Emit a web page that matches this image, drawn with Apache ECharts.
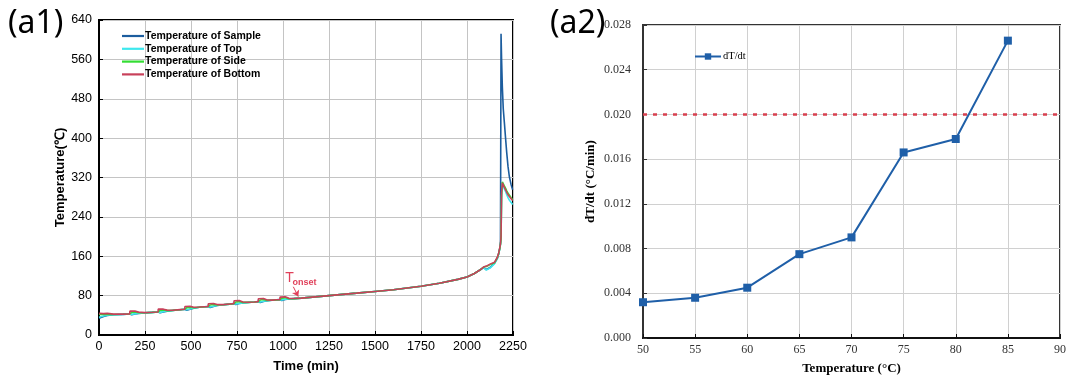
<!DOCTYPE html>
<html>
<head>
<meta charset="utf-8">
<script src="https://cdn.jsdelivr.net/npm/echarts@6/dist/echarts.min.js"></script>
<style>
html,body{margin:0;padding:0;background:#fff;}
#c{width:1077px;height:382px;}
</style>
</head>
<body>
<div id="c"></div>
<script>
// ---------- (a1) data ----------
const time = [
  0,10,25,45,80,130,167,
  168,178,195,215,250,290,321,
  322,332,350,370,400,440,466,
  467,477,495,515,545,575,593,
  594,604,622,642,675,710,733,
  734,744,762,782,810,845,865,
  866,876,894,914,940,965,983,
  984,994,1012,1032,1060,1100,
  1250,1400,1500,1600,1750,1850,1950,2000,2040,2070,2090,
  2095,2105,2115,2125,2135,2150,2165,2172,2178,
  2182,2185,2188,2192,2197,2203,2210,2216,2223,2230,2240,2248
];
const tempSample = [
  34,35.5,37.5,39.5,41,42,42.8,
  39.5,41,42.5,44,45,46,46.8,
  43.5,45,47,48.5,49.8,51.3,52.2,
  49,50.5,52.5,54.5,56.3,57.3,57.8,
  54.5,56,58,59.8,61.3,62.8,63.7,
  60.5,62,64,65.2,66,67,67.8,
  64.5,66,68,69.5,70.5,71.3,71.8,
  68.5,70,72,73.2,74,75,
  80,85,88.5,92,99,105,113,118,125,132,137,
  137,133,134,137,140,146,156,165,176,
  190,612,560,505,460,432,398,370,342,322,305,295
];
const tempTop = [
  36,37,38.5,40,41,42,42.8,
  40.5,41.5,43,44.2,45,46,46.8,
  44.5,46,47.5,48.7,49.8,51.3,52.2,
  50,51.5,53,54.8,56.3,57.3,57.8,
  55.5,57,58.5,60,61.3,62.8,63.7,
  61.5,63,64.3,65.3,66,67,67.8,
  65.5,67,68.5,69.6,70.5,71.3,71.8,
  69.5,71,72.5,73.3,74,75,
  80,85,88.5,92,99,105,113,118,125,132,137,
  136,132,133,136,139,145,155,164,175,
  183,195,280,306,302,297,291,285,279,274,269,265
];
const tempSide = [
  42,42.5,42,42,41.5,42.2,42.8,
  46.5,46,47,45.5,45.2,46,46.8,
  50.5,50,51,49.5,50,51.3,52.2,
  56,55.5,56.5,55.5,56.5,57.3,57.8,
  61.5,61,62,60.8,61.5,62.8,63.7,
  67.5,67,68,66.2,66.2,67,67.8,
  71.5,71,72,70.3,70.6,71.3,71.8,
  75.5,75,76,73.8,74,75,
  80,85,88.5,92,99,105,113,118,125,132,138,
  141,139,140,143,142,147,157,165,176,
  184,195,285,311,308,303,298,293,288,284,279,275
];
const tempBottom = [
  44,44.5,43.5,44,42.5,42.5,43,
  48.5,47.5,48.5,46.5,45.5,46.2,46.8,
  52.5,51.5,52.5,50.5,50.3,51.5,52.2,
  58,57,58.5,56.5,56.8,57.5,57.8,
  63.5,62.5,64,61.8,61.8,63,63.7,
  69.5,68.5,70,67,66.5,67.2,67.8,
  73.5,72.5,74,71,70.8,71.5,71.8,
  77,76,77.5,74.5,74.3,75,
  80,85,88.5,92,99,105,113,118,125,132,138,
  142,140,141,144,142,148,158,166,177,
  185,200,290,309,305,300,295,290,285,281,277,273
];
const a1Names = ['Temperature of Sample','Temperature of Top','Temperature of Side','Temperature of Bottom'];
const a1Colors = ['#1c5d9e','#3ee8ee','#33dd33','#c8405a'];
const tonsetLabelPos = [1035, 116];
const tonsetSubPos = [1117, 107];
const tonsetArrow = [[1056, 98], [1083, 78]];

// ---------- (a2) data ----------
const tempC = [50,55,60,65,70,75,80,85];
const dTdt = [0.0032,0.0036,0.0045,0.0075,0.0090,0.0166,0.0178,0.0266];
const threshold = 0.020;

function pairs(vals){ return time.map((t,i)=>[t, vals[i]]); }
const a1Values = [tempSample, tempTop, tempSide, tempBottom];

const chart = echarts.init(document.getElementById('c'), null, {renderer:'canvas'});
const sans = 'Liberation Sans, Arial, sans-serif';
const serif = 'Liberation Serif, Times New Roman, serif';

const a1Series = a1Values.map((v,i)=>({
  name: a1Names[i], type:'line', xAxisIndex:0, yAxisIndex:0,
  data: pairs(v), showSymbol:false, symbol:'none',
  lineStyle:{color:a1Colors[i], width: 1.6}, itemStyle:{color:a1Colors[i]},
  z: 2 + i
}));
a1Series[3].markLine = {
  silent:true, symbol:['none','arrow'], symbolSize:6,
  lineStyle:{color:'#e0405a', width:1, type:'solid'}, label:{show:false},
  data:[[{coord:tonsetArrow[0]},{coord:tonsetArrow[1]}]]
};
a1Series[3].markPoint = {
  silent:true, symbol:'circle', symbolSize:0,
  data:[
    {coord:tonsetLabelPos, label:{show:true, formatter:'T', color:'#e0405a', fontSize:14, fontFamily:sans, position:'inside'}},
    {coord:tonsetSubPos, label:{show:true, formatter:'onset', color:'#e0405a', fontSize:9, fontFamily:sans, fontWeight:'bold', position:'inside'}}
  ]
};

const option = {
  backgroundColor:'#fff',
  animation:false,
  title:[
    {text:'(a1)', left:3, top:3, textStyle:{fontSize:32, fontWeight:'normal', color:'#000', fontFamily:'Noto Sans'}},
    {text:'(a2)', left:545, top:3, textStyle:{fontSize:32, fontWeight:'normal', color:'#000', fontFamily:'Noto Sans'}}
  ],
  legend:[
    {data:a1Names.map(n=>({name:n, icon:'rect'})), orient:'vertical', left:117, top:25, itemWidth:22, itemHeight:2.2, itemGap:0.8,
     textStyle:{fontSize:10.5, fontWeight:'bold', fontFamily:sans, color:'#000', padding:[0,0,0,-4], lineHeight:12}},
    {data:['dT/dt'], left:689, top:46, itemWidth:26, itemHeight:8,
     textStyle:{fontSize:10.5, fontFamily:serif, color:'#000', padding:[0,0,0,-3]}}
  ],
  grid:[
    {left:99, top:20, width:414, height:315, show:true, borderColor:'#000', borderWidth:2, backgroundColor:'transparent'},
    {left:643, top:25, width:417, height:313, show:true, borderColor:'#333', borderWidth:2, backgroundColor:'transparent'}
  ],
  xAxis:[
    {type:'value', gridIndex:0, min:0, max:2250, interval:250,
     name:'Time (min)', nameLocation:'middle', nameGap:25,
     nameTextStyle:{fontSize:13, fontWeight:'bold', fontFamily:sans, color:'#000'},
     axisLine:{lineStyle:{color:'#000', width:2}}, axisTick:{inside:true, length:4, lineStyle:{color:'#000'}},
     axisLabel:{fontSize:12.5, fontFamily:sans, color:'#000', margin:5, formatter:(v)=>String(v)},
     splitLine:{show:true, lineStyle:{color:'#c4c4c4', width:1}}},
    {type:'value', gridIndex:1, min:50, max:90, interval:5,
     name:'Temperature (°C)', nameLocation:'middle', nameGap:24,
     nameTextStyle:{fontSize:13, fontWeight:'bold', fontFamily:serif, color:'#000'},
     axisLine:{lineStyle:{color:'#111', width:2}}, axisTick:{inside:true, length:4, lineStyle:{color:'#111'}},
     axisLabel:{fontSize:12, fontFamily:serif, color:'#333', margin:6},
     splitLine:{show:true, lineStyle:{color:'#d0d0d0', width:1}}}
  ],
  yAxis:[
    {type:'value', gridIndex:0, min:0, max:640, interval:80,
     name:'Temperature(℃)', nameLocation:'middle', nameGap:31, nameRotate:90,
     nameTextStyle:{fontSize:13, fontWeight:'bold', fontFamily:sans, color:'#000'},
     axisLine:{show:true, lineStyle:{color:'#000', width:2}}, axisTick:{show:true, inside:true, length:4, lineStyle:{color:'#000'}},
     axisLabel:{fontSize:12.5, fontFamily:sans, color:'#000', margin:7},
     splitLine:{show:true, lineStyle:{color:'#c4c4c4', width:1}}},
    {type:'value', gridIndex:1, min:0, max:0.028, interval:0.004,
     name:'dT/dt (°C/min)', nameLocation:'middle', nameGap:46, nameRotate:90,
     nameTextStyle:{fontSize:13, fontWeight:'bold', fontFamily:serif, color:'#000'},
     axisLine:{show:true, lineStyle:{color:'#333', width:2}}, axisTick:{show:true, inside:true, length:4, lineStyle:{color:'#333'}},
     axisLabel:{fontSize:12, fontFamily:serif, color:'#333', margin:12, formatter:(v)=>v.toFixed(3)},
     splitLine:{show:true, lineStyle:{color:'#d0d0d0', width:1}}}
  ],
  series:[
    ...a1Series,
    {name:'dT/dt', type:'line', xAxisIndex:1, yAxisIndex:1,
     data: tempC.map((t,i)=>[t, dTdt[i]]),
     symbol:'rect', symbolSize:8, showSymbol:true,
     lineStyle:{color:'#1f5fa8', width:2}, itemStyle:{color:'#1f5fa8'},
     markLine:{silent:true, symbol:['none','none'], label:{show:false},
       lineStyle:{color:'#d8404f', width:2.5, type:[4,6]},
       data:[{yAxis:threshold}]}
    }
  ]
};
chart.setOption(option);
</script>
</body>
</html>
